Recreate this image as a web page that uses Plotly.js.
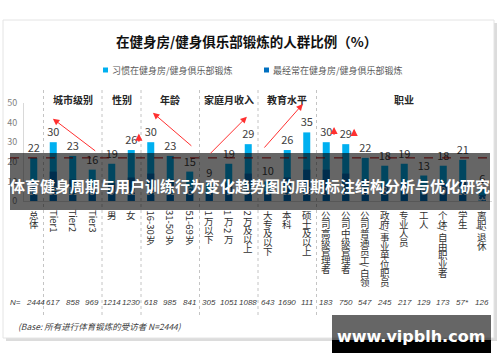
<!DOCTYPE html>
<html><head><meta charset="utf-8">
<script src="https://cdn.plot.ly/plotly-3.0.1.min.js"></script>
<style>html,body{margin:0;padding:0;background:#fff;}#chart{width:500px;height:362px;}</style>
</head><body><div id="chart"></div>
<script>
const categories = ['总体','Tier1','Tier2','Tier3','男','女','16-30岁','31-50岁','51-69岁','1万以下','1万-2万','2万及以上','大专及以下','本科','硕士及以上','公司高级管理者','公司中级管理者','公司普通员工/白领','政府/事业单位职员','专业人员','工人','个体/自由职业者','学生','离职/退休'];
const habitual = [22,30,23,16,19,26,30,23,15,9,19,29,10,26,35,30,29,22,18,19,13,18,21,6];
const mostOften = [10,15,11,8,9,12,14,11,6,4,9,14,5,12,16,16,14,11,8,9,6,9,10,3];
const sampleN = ['2444','617','858','969','1214','1230','618','985','841','305','1051','1088','643','1690','111','183','750','547','245','217','129','173','57*','126'];
const seriesNames = ['习惯在健身房/健身俱乐部锻炼','最经常在健身房/健身俱乐部锻炼'];
const groupNames = ['城市级别','性别','年龄','家庭月收入','教育水平','职业'];
const groupFirst = [1,4,6,9,12,15];
const groupLast  = [3,5,8,11,14,23];
const titleText = '在健身房/健身俱乐部锻炼的人群比例（%）';
const baseNote = '(Base: 所有进行体育锻炼的受访者 N=2444)';
const bannerText = '体育健身周期与用户训练行为变化趋势图的周期标注结构分析与优化研究';
const watermark = 'www.vipblh.com';

const FF = '"Noto Sans CJK SC", "Noto Sans", sans-serif';
const NF = '"Liberation Sans Narrow", "Liberation Sans", sans-serif';
const L=24, R=8, T=103, B=161, W=500, H=362;
const PW = W-L-R, PH = H-T-B;
const px = v => (v-L)/PW;
const py = v => (T+PH-v)/PH;
const idx = categories.map((_,i)=>i);

const LABEL_SIZE = 9.5;
const cv = document.createElement('canvas').getContext('2d');
cv.font = LABEL_SIZE + 'px ' + FF;
const isCJK = ch => /[\u2E80-\u9FFF\uFF00-\uFFEF\u3000-\u303F]/.test(ch);

const annotations = [];
const shapes = [];

shapes.push({type:'rect',xref:'paper',yref:'paper',x0:px(6),x1:px(497),y0:py(341),y1:py(23),fillcolor:'#dcdcdc',line:{width:0},layer:'below'});
shapes.push({type:'rect',xref:'paper',yref:'paper',x0:px(3),x1:px(494),y0:py(338),y1:py(20),fillcolor:'#ffffff',line:{color:'#e4e4e4',width:1},layer:'below'});

groupFirst.forEach(g=>{
  shapes.push({type:'line',xref:'x',yref:'paper',x0:g-0.5,x1:g-0.5,y0:py(315),y1:py(90),line:{color:'#c4c4c4',width:1,dash:'dot'},layer:'below'});
});
shapes.push({type:'line',xref:'paper',yref:'y',x0:px(10),x1:px(494),y0:habitual[0],y1:habitual[0],line:{color:'#C00000',width:1,dash:'dash'},layer:'above'});
shapes.push({type:'rect',xref:'paper',yref:'paper',x0:px(10),x1:px(490),y0:py(210),y1:py(153),fillcolor:'rgba(0,0,0,0.6)',line:{width:0},layer:'above'});
shapes.push({type:'rect',xref:'paper',yref:'paper',x0:px(332),x1:px(491),y0:py(340),y1:py(315),fillcolor:'rgba(0,0,0,0.6)',line:{width:0},layer:'above'});
shapes.push({type:'rect',xref:'paper',yref:'paper',x0:px(332),x1:px(491),y0:py(353),y1:py(340),fillcolor:'#000',line:{width:0},layer:'above'});

const legColors = ['#00B0F0','#0070C0'];
const legX = [103,264];
seriesNames.forEach((n,k)=>{
  shapes.push({type:'rect',xref:'paper',yref:'paper',x0:px(legX[k]),x1:px(legX[k]+5),y0:py(72.5),y1:py(67.5),fillcolor:legColors[k],line:{width:0}});
  annotations.push({xref:'paper',yref:'paper',x:px(legX[k]+7),y:py(70),xanchor:'left',yanchor:'middle',showarrow:false,text:n,font:{family:FF,size:9,color:'#595959'}});
});

annotations.push({xref:'paper',yref:'paper',x:px(246),y:py(41),xanchor:'center',yanchor:'middle',showarrow:false,text:'<b>'+titleText+'</b>',font:{family:FF,size:13.5,color:'#111'}});

groupNames.forEach((g,k)=>{
  annotations.push({xref:'x',yref:'paper',x:(groupFirst[k]+groupLast[k])/2,y:py(99),xanchor:'center',yanchor:'middle',showarrow:false,text:'<b>'+g+'</b>',font:{family:FF,size:10,color:'#262626'}});
});

categories.forEach((lab,i)=>{
  let cursor = 210;
  const step = 9;
  let runs = [];
  for (const ch of lab){
    if (isCJK(ch)) runs.push({cjk:true,t:ch});
    else if (runs.length && !runs[runs.length-1].cjk) runs[runs.length-1].t += ch;
    else runs.push({cjk:false,t:ch});
  }
  runs.forEach(r=>{
    if (r.cjk){
      annotations.push({xref:'x',yref:'paper',x:i,y:py(cursor+step/2),xanchor:'center',yanchor:'middle',showarrow:false,text:r.t,font:{family:FF,size:LABEL_SIZE,color:'#303030'},borderpad:0});
      cursor += step;
    } else {
      const w = cv.measureText(r.t).width;
      annotations.push({xref:'x',yref:'paper',x:i,y:py(cursor+w/2),xanchor:'center',yanchor:'middle',showarrow:false,textangle:90,text:r.t,font:{family:FF,size:LABEL_SIZE,color:'#303030'},borderpad:0});
      cursor += w + 1;
    }
  });
});

annotations.push({xref:'paper',yref:'paper',x:px(8),y:py(302),xanchor:'left',yanchor:'middle',showarrow:false,text:'<i>N=</i>',font:{family:NF,size:8,color:'#404040'}});
sampleN.forEach((n,i)=>{
  annotations.push({xref:'x',yref:'paper',x:i+(i===0?0.1:0),y:py(302),xanchor:'center',yanchor:'middle',showarrow:false,text:'<i>'+n+'</i>',font:{family:NF,size:8,color:'#404040'},borderpad:0});
});
annotations.push({xref:'paper',yref:'paper',x:px(16),y:py(326),xanchor:'left',yanchor:'middle',showarrow:false,text:'<i>'+baseNote+'</i>',font:{family:FF,size:8.5,color:'#404040'}});

const arrows = [
  {t:[3,0.23,9],   h:[1,-0.02,12]},
  {t:[8,0.16,12.5],h:[6,0.11,15]},
  {t:[9,-0.02,14.5],h:[11,-0.07,14]},
  {t:[12,-0.24,16.5],h:[14,-0.2,14.5]},
  {t:[5,0.39,3.6], h:[5,0.39,8.4], small:true},
  {t:[15,0.4,3.2], h:[15,0.4,7.8], small:true},
  {t:[16,0.43,3.7],h:[16,0.43,7.9], small:true}
];
arrows.forEach(a=>{
  annotations.push({xref:'x',yref:'y',axref:'x',ayref:'y',
    x:a.h[0]+a.h[1], y:habitual[a.h[0]]+a.h[2],
    ax:a.t[0]+a.t[1], ay:habitual[a.t[0]]+a.t[2],
    showarrow:true,text:'',arrowhead:2,arrowsize:a.small?0.8:1.3,arrowwidth:a.small?1.8:1,arrowcolor:'#FF3030'});
});

annotations.push({xref:'paper',yref:'paper',x:px(250),y:py(185),xanchor:'center',yanchor:'middle',showarrow:false,text:'<b>'+bannerText+'</b>',font:{family:FF,size:15,color:'#ffffff'}});
annotations.push({xref:'paper',yref:'paper',x:px(411),y:py(336),xanchor:'center',yanchor:'middle',showarrow:false,text:'<b>'+watermark+'</b>',font:{family:'"DejaVu Sans", sans-serif',size:16,color:'#ffffff'}});

const traces = [
  {type:'bar',x:idx,y:habitual,name:seriesNames[0],marker:{color:'#00B0F0'},width:0.36,
   text:habitual.map(String),textposition:'outside',cliponaxis:false,constraintext:'none',
   textfont:{family:FF,size:11,color:'#404040'},hoverinfo:'skip'},
  {type:'bar',x:idx,y:mostOften,name:seriesNames[1],marker:{color:'#0070C0'},width:0.36,
   text:mostOften.map(String),textposition:'inside',insidetextanchor:'start',constraintext:'none',
   textfont:{family:FF,size:10,color:'#ffffff'},hoverinfo:'skip'}
];

const layout = {
  width:W,height:H,margin:{l:L,r:R,t:T,b:B},
  paper_bgcolor:'#ffffff',plot_bgcolor:'rgba(0,0,0,0)',
  barmode:'overlay',showlegend:false,
  xaxis:{range:[-0.5,23.5],showticklabels:false,showgrid:false,zeroline:false,showline:true,linecolor:'#d9d9d9',ticks:''},
  yaxis:{range:[0,50],tickvals:[0,10,20,30,40,50],showgrid:false,zeroline:false,showline:true,linecolor:'#d9d9d9',ticks:'',
         tickfont:{family:FF,size:9,color:'#7f7f7f'},ticklabelstandoff:4},
  shapes:shapes,annotations:annotations,font:{family:FF}
};
Plotly.newPlot('chart',traces,layout,{displayModeBar:false,staticPlot:true});
</script></body></html>
